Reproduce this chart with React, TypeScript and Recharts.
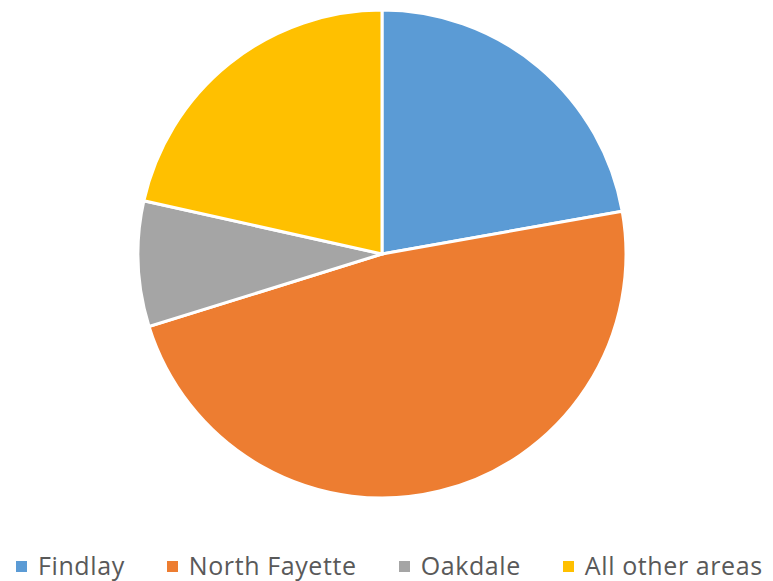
import React from "react";
import { PieChart, Pie, Cell, Legend } from "recharts";

const categories = ["Findlay", "North Fayette", "Oakdale", "All other areas"];
const values = [22.2, 48.0, 8.3, 21.5];
const colors = ["#5B9BD5", "#ED7D31", "#A5A5A5", "#FFC000"];

const data = categories.map((name, i) => ({ name, value: values[i] }));

const renderLegend = () => {
  return (
    <div style={{ display: "flex", flexDirection: "row", alignItems: "center", paddingLeft: 16, height: 34, whiteSpace: "nowrap" }}>
      {categories.map((name, i) => (
        <div key={name} style={{ display: "flex", alignItems: "center", marginRight: i < 3 ? 42 : 0, flexShrink: 0 }}>
          <span style={{ display: "inline-block", width: 11, height: 11, background: colors[i], marginRight: 11, marginTop: 3, flexShrink: 0 }} />
          <span style={{ fontFamily: "'Open Sans', sans-serif", fontSize: 25, lineHeight: "34px", color: "#595959", whiteSpace: "nowrap", letterSpacing: 0.6 }}>{name}</span>
        </div>
      ))}
    </div>
  );
};

export default function App() {
  return (
    <div style={{ position: "absolute", left: 0, top: 0, width: 773, height: 581, background: "#fff" }}>
      <PieChart width={773} height={581} margin={{ top: 0, right: 0, bottom: 0, left: 0 }}>
        <Pie
          data={data}
          dataKey="value"
          nameKey="name"
          cx={382}
          cy={254}
          outerRadius={244}
          startAngle={90}
          endAngle={-270}
          stroke="#ffffff"
          strokeWidth={3}
          isAnimationActive={false}
        >
          {data.map((d, i) => (
            <Cell key={d.name} fill={colors[i]} />
          ))}
        </Pie>
        <Legend
          content={renderLegend}
          verticalAlign="bottom"
          wrapperStyle={{ left: 0, bottom: "auto", top: 548, width: 773 }}
        />
      </PieChart>
    </div>
  );
}
